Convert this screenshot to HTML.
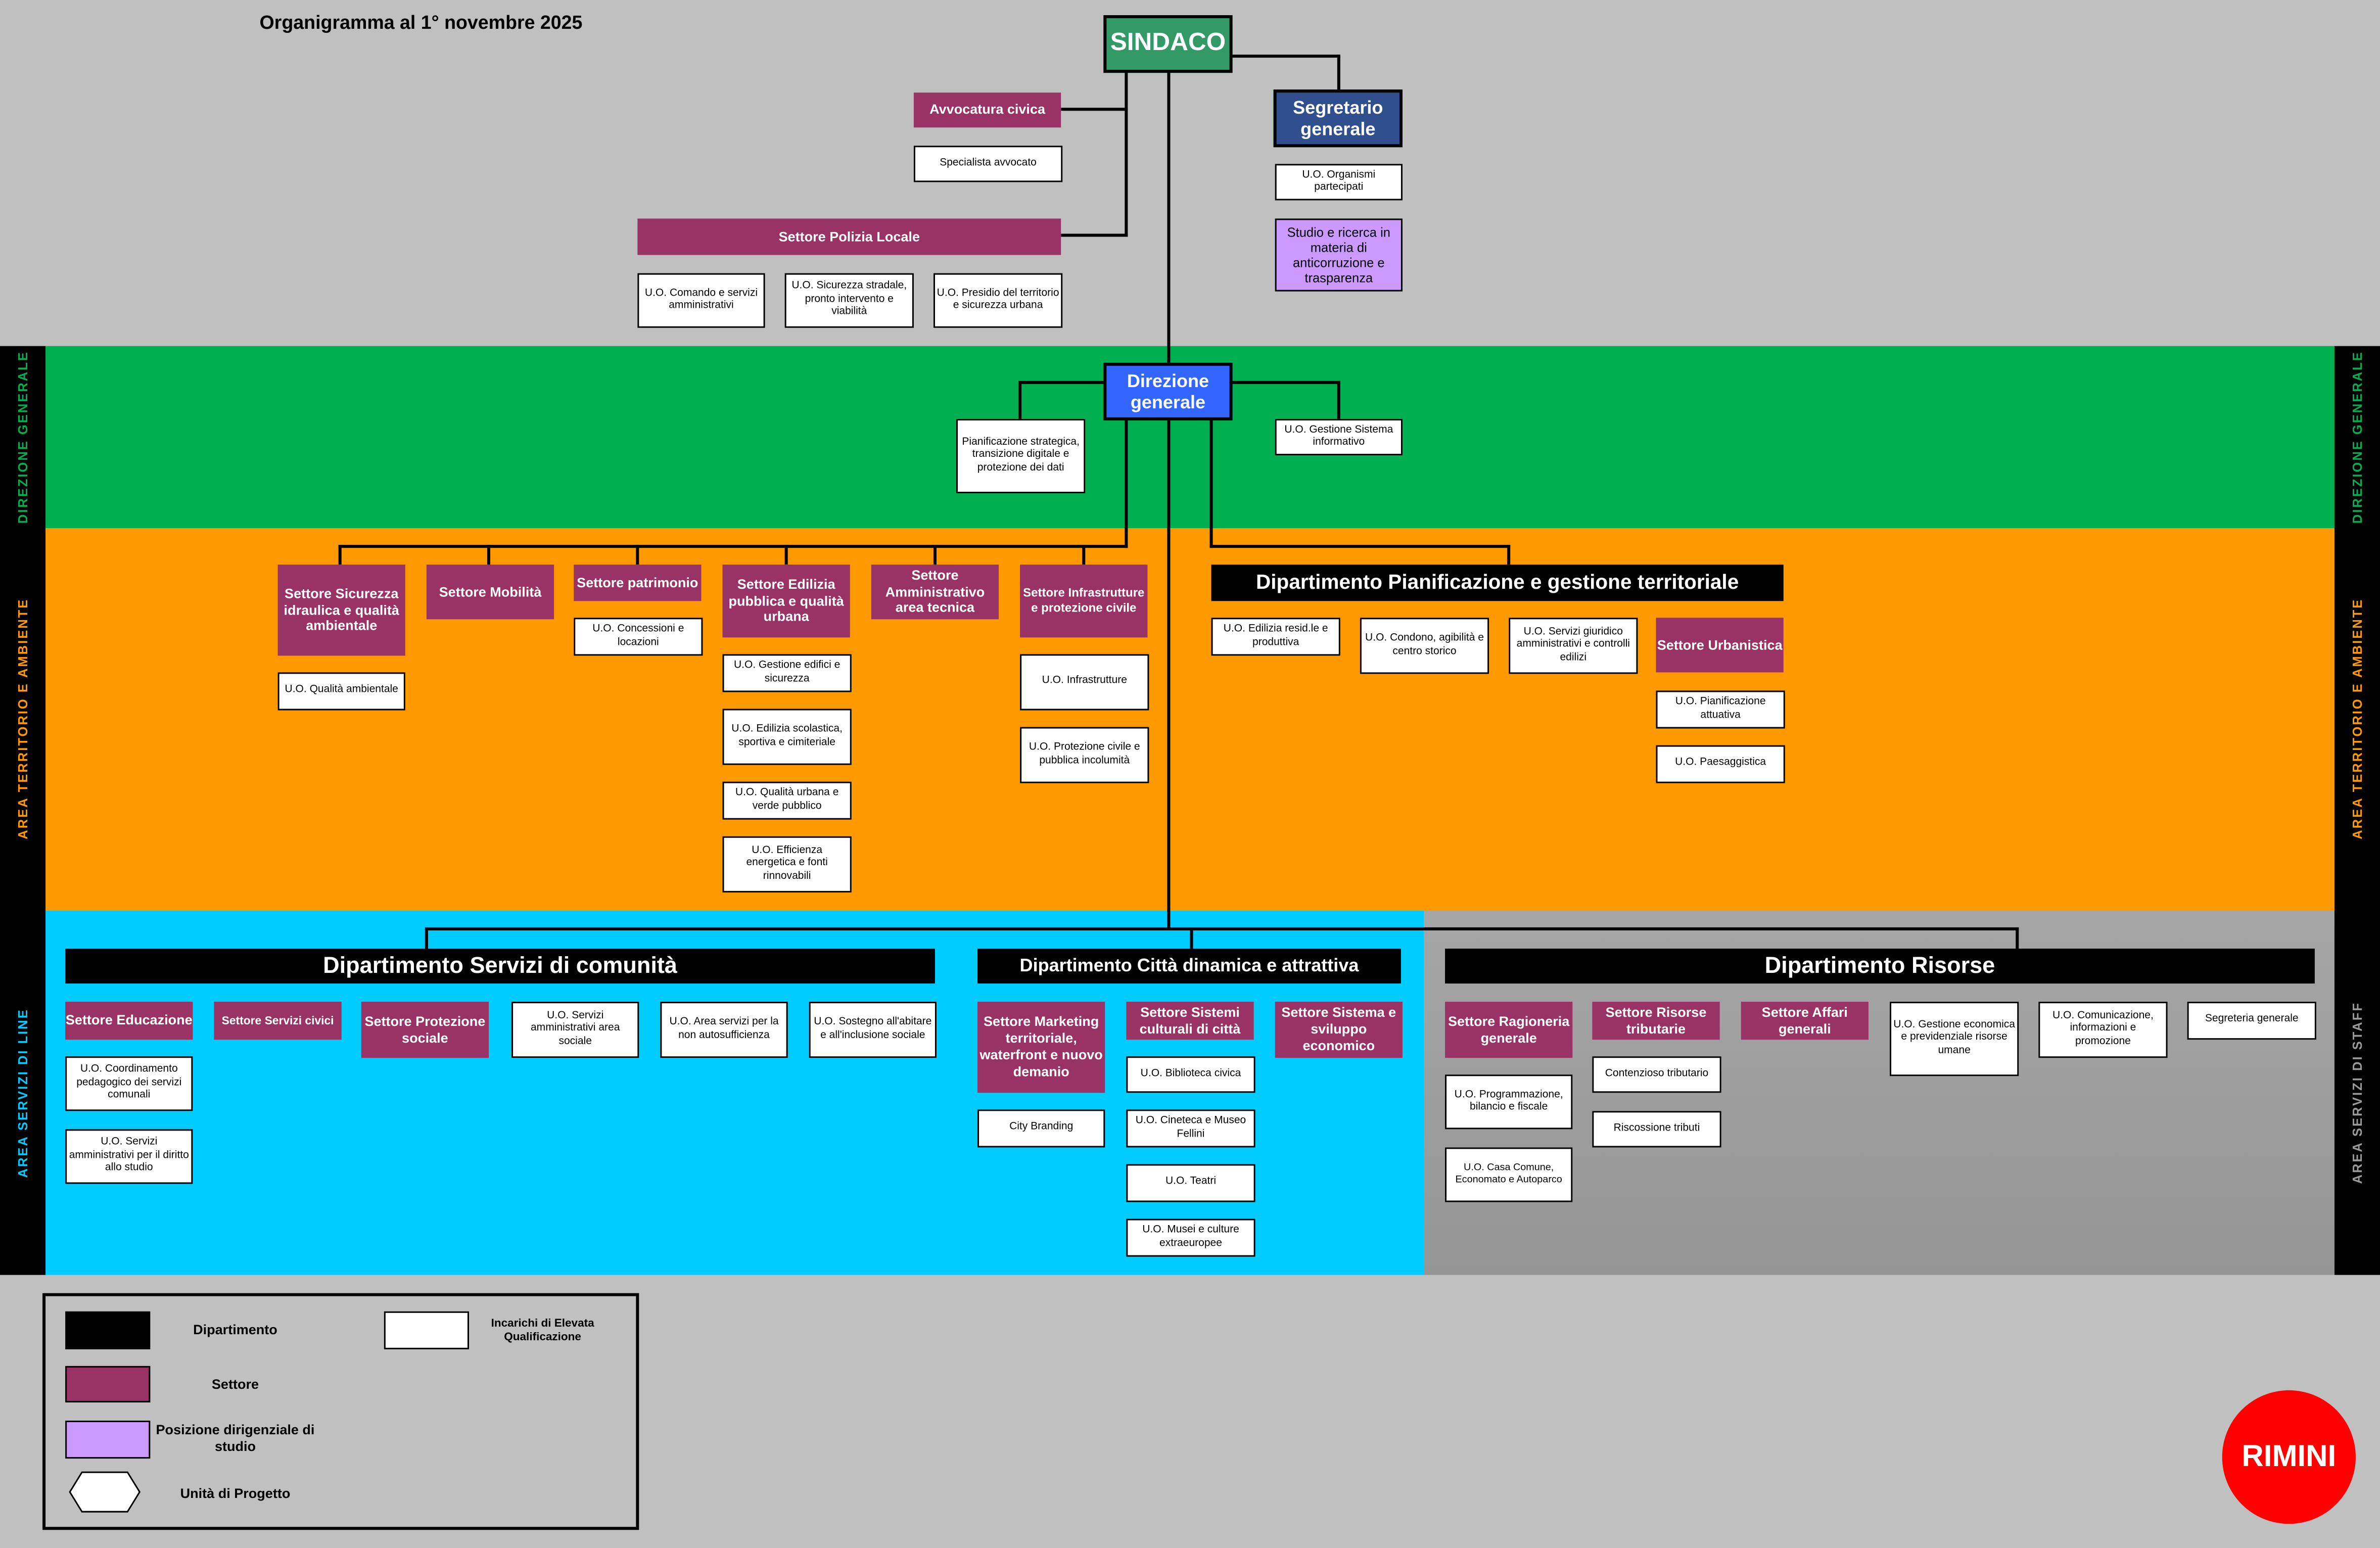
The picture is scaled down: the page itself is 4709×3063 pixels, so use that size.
<!DOCTYPE html>
<html><head><meta charset="utf-8">
<style>
html,body{margin:0;padding:0;}
body{width:4709px;height:3063px;overflow:hidden;background:#c0c0c0;}
#w{position:absolute;left:0;top:0;width:1568px;height:1020px;transform:scale(3.0032);transform-origin:0 0;font-family:"Liberation Sans Narrow","Liberation Sans",sans-serif;}
#w div{position:absolute;box-sizing:border-box;}
.b{display:flex;align-items:center;justify-content:center;text-align:center;line-height:1.2;}
.s{background:#993366;color:#fff;font-weight:bold;font-size:9px;}
.u{background:#fff;border:1px solid #000;border-right-width:1.5px;border-bottom-width:1.5px;color:#000;font-size:7px;padding:0 1px;}
.d{background:#000;color:#fff;font-weight:bold;}
.l{background:#000;}
.vl{writing-mode:vertical-rl;transform:rotate(180deg);font-family:"Liberation Sans",sans-serif;font-size:8.5px;font-weight:bold;letter-spacing:1px;text-align:center;width:30px;display:flex;align-items:center;justify-content:center;}
</style></head><body>
<div id="w">
<div style="left:30px;top:228px;width:1508px;height:120px;background:#00b050"></div>
<div style="left:30px;top:348px;width:1508px;height:252px;background:#ff9900"></div>
<div style="left:30px;top:600px;width:908px;height:240px;background:#00ccff"></div>
<div style="left:938px;top:600px;width:600px;height:240px;background:linear-gradient(#a6a6a6,#959595)"></div>
<div style="left:0;top:228px;width:30px;height:612px;background:#000"></div>
<div style="left:1538px;top:228px;width:30px;height:612px;background:#000"></div>
<div class="vl" style="left:0;top:228px;height:120px;color:#00b050">DIREZIONE GENERALE</div>
<div class="vl" style="left:0;top:348px;height:252px;color:#ff9900">AREA TERRITORIO E AMBIENTE</div>
<div class="vl" style="left:0;top:600px;height:240px;color:#00ccff">AREA SERVIZI DI LINE</div>
<div class="vl" style="left:1538px;top:228px;height:120px;color:#00b050">DIREZIONE GENERALE</div>
<div class="vl" style="left:1538px;top:348px;height:252px;color:#ff9900">AREA TERRITORIO E AMBIENTE</div>
<div class="vl" style="left:1538px;top:600px;height:240px;color:#9a9a9a">AREA SERVIZI DI STAFF</div>

<div style="left:171px;top:8px;font-size:12.5px;font-weight:bold;font-family:'Liberation Sans',sans-serif;white-space:nowrap">Organigramma al 1° novembre 2025</div>

<div class="l" style="left:741px;top:47px;width:2px;height:109px"></div>
<div class="l" style="left:699px;top:71px;width:44px;height:2px"></div>
<div class="l" style="left:699px;top:154px;width:44px;height:2px"></div>
<div class="l" style="left:769px;top:47px;width:2px;height:565px"></div>
<div class="l" style="left:811px;top:36px;width:72px;height:2px"></div>
<div class="l" style="left:881px;top:36px;width:2px;height:24px"></div>
<div class="l" style="left:672px;top:251px;width:56px;height:2px"></div>
<div class="l" style="left:671px;top:251px;width:2px;height:25px"></div>
<div class="l" style="left:811px;top:251px;width:72px;height:2px"></div>
<div class="l" style="left:881px;top:251px;width:2px;height:25px"></div>
<div class="l" style="left:741px;top:276px;width:2px;height:85px"></div>
<div class="l" style="left:223px;top:359px;width:520px;height:2px"></div>
<div class="l" style="left:223px;top:359px;width:2px;height:13px"></div>
<div class="l" style="left:321px;top:359px;width:2px;height:13px"></div>
<div class="l" style="left:419px;top:359px;width:2px;height:13px"></div>
<div class="l" style="left:517px;top:359px;width:2px;height:13px"></div>
<div class="l" style="left:615px;top:359px;width:2px;height:13px"></div>
<div class="l" style="left:713px;top:359px;width:2px;height:13px"></div>
<div class="l" style="left:797px;top:276px;width:2px;height:85px"></div>
<div class="l" style="left:797px;top:359px;width:198px;height:2px"></div>
<div class="l" style="left:993px;top:359px;width:2px;height:13px"></div>
<div class="l" style="left:280px;top:611px;width:1050px;height:2px"></div>
<div class="l" style="left:280px;top:611px;width:2px;height:14px"></div>
<div class="l" style="left:784px;top:611px;width:2px;height:14px"></div>
<div class="l" style="left:1328px;top:611px;width:2px;height:14px"></div>

<div class="b" style="left:727px;top:10px;width:85px;height:38px;background:#339966;border:2px solid #000;color:#fff;font-weight:bold;font-size:16.5px">SINDACO</div>
<div class="b" style="left:839px;top:59px;width:85px;height:38px;background:#2f4f8f;border:2px solid #000;color:#fff;font-weight:bold;font-size:12px">Segretario generale</div>
<div class="b u" style="left:840px;top:108px;width:84px;height:24px">U.O. Organismi partecipati</div>
<div class="b" style="left:840px;top:144px;width:84px;height:48px;background:#cc99ff;border:1px solid #000;font-size:8.5px">Studio e ricerca in materia di anticorruzione e trasparenza</div>
<div class="b s" style="left:602px;top:61px;width:97px;height:23px">Avvocatura civica</div>
<div class="b u" style="left:602px;top:96px;width:98px;height:24px">Specialista avvocato</div>
<div class="b s" style="left:420px;top:144px;width:279px;height:24px">Settore Polizia Locale</div>
<div class="b u" style="left:420px;top:180px;width:84px;height:36px">U.O. Comando e servizi amministrativi</div>
<div class="b u" style="left:517px;top:180px;width:85px;height:36px">U.O. Sicurezza stradale, pronto intervento e viabilità</div>
<div class="b u" style="left:615px;top:180px;width:85px;height:36px">U.O. Presidio del territorio e sicurezza urbana</div>

<div class="b" style="left:727px;top:239px;width:85px;height:38px;background:#3366ff;border:2px solid #000;color:#fff;font-weight:bold;font-size:12px">Direzione generale</div>
<div class="b u" style="left:630px;top:276px;width:85px;height:49px">Pianificazione strategica, transizione digitale e protezione dei dati</div>
<div class="b u" style="left:840px;top:276px;width:84px;height:24px">U.O. Gestione Sistema informativo</div>

<div class="b s" style="left:183px;top:372px;width:84px;height:60px">Settore Sicurezza idraulica e qualità ambientale</div>
<div class="b s" style="left:281px;top:372px;width:84px;height:36px">Settore Mobilità</div>
<div class="b s" style="left:378px;top:372px;width:84px;height:24px">Settore patrimonio</div>
<div class="b s" style="left:476px;top:372px;width:84px;height:48px">Settore Edilizia pubblica e qualità urbana</div>
<div class="b s" style="left:574px;top:372px;width:84px;height:36px">Settore Amministrativo area tecnica</div>
<div class="b s" style="left:672px;top:372px;width:84px;height:48px;font-size:8px">Settore Infrastrutture e protezione civile</div>
<div class="b u" style="left:183px;top:443px;width:84px;height:25px">U.O. Qualità ambientale</div>
<div class="b u" style="left:378px;top:407px;width:85px;height:25px">U.O. Concessioni e locazioni</div>
<div class="b u" style="left:476px;top:431px;width:85px;height:25px">U.O. Gestione edifici e sicurezza</div>
<div class="b u" style="left:476px;top:467px;width:85px;height:37px">U.O. Edilizia scolastica, sportiva e cimiteriale</div>
<div class="b u" style="left:476px;top:515px;width:85px;height:25px">U.O. Qualità urbana e verde pubblico</div>
<div class="b u" style="left:476px;top:551px;width:85px;height:37px">U.O. Efficienza energetica e fonti rinnovabili</div>
<div class="b u" style="left:672px;top:431px;width:85px;height:37px">U.O. Infrastrutture</div>
<div class="b u" style="left:672px;top:479px;width:85px;height:37px">U.O. Protezione civile e pubblica incolumità</div>
<div class="b d" style="left:798px;top:372px;width:377px;height:24px;font-size:13.5px;font-family:'Liberation Sans',sans-serif">Dipartimento Pianificazione e gestione territoriale</div>
<div class="b u" style="left:798px;top:407px;width:85px;height:25px">U.O. Edilizia resid.le e produttiva</div>
<div class="b u" style="left:896px;top:407px;width:85px;height:37px">U.O. Condono, agibilità e centro storico</div>
<div class="b u" style="left:994px;top:407px;width:85px;height:37px">U.O. Servizi giuridico amministrativi e controlli edilizi</div>
<div class="b s" style="left:1091px;top:407px;width:84px;height:36px">Settore Urbanistica</div>
<div class="b u" style="left:1091px;top:455px;width:85px;height:25px">U.O. Pianificazione attuativa</div>
<div class="b u" style="left:1091px;top:491px;width:85px;height:25px">U.O. Paesaggistica</div>

<div class="b d" style="left:43px;top:625px;width:573px;height:23px;font-size:15px;font-family:'Liberation Sans',sans-serif">Dipartimento Servizi di comunità</div>
<div class="b d" style="left:644px;top:625px;width:279px;height:23px;font-size:12px;font-family:'Liberation Sans',sans-serif">Dipartimento Città dinamica e attrattiva</div>
<div class="b d" style="left:952px;top:625px;width:573px;height:23px;font-size:15px;font-family:'Liberation Sans',sans-serif">Dipartimento Risorse</div>

<div class="b s" style="left:43px;top:660px;width:84px;height:25px">Settore Educazione</div>
<div class="b s" style="left:141px;top:660px;width:84px;height:25px;font-size:7.6px">Settore Servizi civici</div>
<div class="b s" style="left:238px;top:660px;width:84px;height:37px">Settore Protezione sociale</div>
<div class="b u" style="left:337px;top:660px;width:84px;height:37px">U.O. Servizi amministrativi area sociale</div>
<div class="b u" style="left:435px;top:660px;width:84px;height:37px">U.O. Area servizi per la non autosufficienza</div>
<div class="b u" style="left:533px;top:660px;width:84px;height:37px">U.O. Sostegno all'abitare e all'inclusione sociale</div>
<div class="b u" style="left:43px;top:696px;width:84px;height:36px">U.O. Coordinamento pedagogico dei servizi comunali</div>
<div class="b u" style="left:43px;top:744px;width:84px;height:36px">U.O. Servizi amministrativi per il diritto allo studio</div>

<div class="b s" style="left:644px;top:660px;width:84px;height:60px">Settore Marketing territoriale, waterfront e nuovo demanio</div>
<div class="b u" style="left:644px;top:731px;width:84px;height:25px">City Branding</div>
<div class="b s" style="left:742px;top:660px;width:84px;height:25px">Settore Sistemi culturali di città</div>
<div class="b u" style="left:742px;top:696px;width:85px;height:24px">U.O. Biblioteca civica</div>
<div class="b u" style="left:742px;top:731px;width:85px;height:25px">U.O. Cineteca e Museo Fellini</div>
<div class="b u" style="left:742px;top:767px;width:85px;height:25px">U.O. Teatri</div>
<div class="b u" style="left:742px;top:803px;width:85px;height:25px">U.O. Musei e culture extraeuropee</div>
<div class="b s" style="left:840px;top:660px;width:84px;height:37px">Settore Sistema e sviluppo economico</div>

<div class="b s" style="left:952px;top:660px;width:84px;height:37px">Settore Ragioneria generale</div>
<div class="b u" style="left:952px;top:708px;width:84px;height:36px">U.O. Programmazione, bilancio e fiscale</div>
<div class="b u" style="left:952px;top:756px;width:84px;height:36px;font-size:6.6px">U.O. Casa Comune, Economato e Autoparco</div>
<div class="b s" style="left:1049px;top:660px;width:84px;height:25px">Settore Risorse tributarie</div>
<div class="b u" style="left:1049px;top:696px;width:85px;height:24px">Contenzioso tributario</div>
<div class="b u" style="left:1049px;top:732px;width:85px;height:24px">Riscossione tributi</div>
<div class="b s" style="left:1147px;top:660px;width:84px;height:25px">Settore Affari generali</div>
<div class="b u" style="left:1245px;top:660px;width:85px;height:49px">U.O. Gestione economica e previdenziale risorse umane</div>
<div class="b u" style="left:1343px;top:660px;width:85px;height:37px">U.O. Comunicazione, informazioni e promozione</div>
<div class="b u" style="left:1441px;top:660px;width:85px;height:25px">Segreteria generale</div>

<div style="left:28px;top:852px;width:393px;height:156px;border:2px solid #000"></div>
<div style="left:43px;top:864px;width:56px;height:25px;background:#000"></div>
<div class="b" style="left:100px;top:864px;width:110px;height:25px;font-size:9px;font-weight:bold">Dipartimento</div>
<div style="left:253px;top:864px;width:56px;height:25px;background:#fff;border:1px solid #000"></div>
<div class="b" style="left:310px;top:862px;width:95px;height:28px;font-size:7.5px;font-weight:bold">Incarichi di Elevata Qualificazione</div>
<div style="left:43px;top:900px;width:56px;height:24px;background:#993366;border:1px solid #000"></div>
<div class="b" style="left:100px;top:900px;width:110px;height:24px;font-size:9px;font-weight:bold">Settore</div>
<div style="left:43px;top:936px;width:56px;height:25px;background:#cc99ff;border:1px solid #000"></div>
<div class="b" style="left:99px;top:934px;width:112px;height:28px;font-size:9px;font-weight:bold">Posizione dirigenziale di studio</div>
<svg style="position:absolute;left:44px;top:968px" width="50" height="30"><polygon points="2,15 10,2 40,2 48,15 40,28 10,28" fill="#fff" stroke="#000" stroke-width="1"/></svg>
<div class="b" style="left:100px;top:972px;width:110px;height:24px;font-size:9px;font-weight:bold">Unità di Progetto</div>

<div class="b" style="left:1464px;top:916px;width:88px;height:88px;border-radius:50%;background:#ff0000;color:#fff;font-size:20px;font-weight:bold;font-family:'Liberation Sans',sans-serif">RIMINI</div>
</div>
</body></html>
